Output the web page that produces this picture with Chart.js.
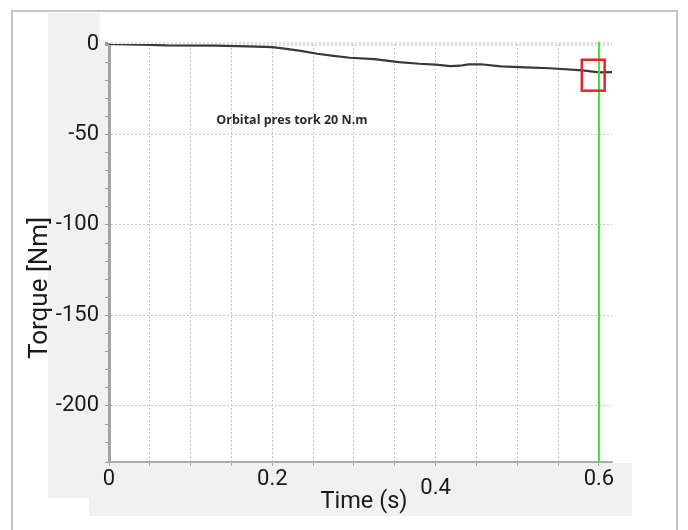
<!DOCTYPE html>
<html>
<head>
<meta charset="utf-8">
<script src="https://cdn.jsdelivr.net/npm/chart.js@4.4.1/dist/chart.umd.min.js"></script>
<style>body{margin:0;background:#fff}</style>
</head>
<body>
<canvas id="torque" width="688" height="530"></canvas>
<script>
// torque trace
const time = [0, 0.04, 0.07, 0.13, 0.17, 0.2, 0.215, 0.235, 0.255, 0.275, 0.295, 0.325, 0.355, 0.38, 0.4, 0.418, 0.43, 0.44, 0.455, 0.48, 0.51, 0.54, 0.58, 0.6, 0.616]
const torque = [0, -0.4, -0.8, -0.9, -1.3, -1.7, -2.6, -3.8, -5.4, -6.6, -7.6, -8.4, -10.0, -10.9, -11.4, -12.2, -12.0, -11.3, -11.2, -12.4, -12.9, -13.4, -14.6, -15.7, -15.5]
const xLabels = [0, 0.2, 0.4, 0.6]
const yLabels = [0, -50, -100, -150, -200]
const xRange = [0, 0.616]
const yRange = [-231, 0]

// cursor, marker box and note, in data units
const cursorTime = 0.6
const markerTime = [0.579, 0.607]
const markerTorque = [-8.7, -25.8]
const note = 'Orbital pres tork 20 N.m'
const noteAt = [0.224, -42.5]

const near = (a, b) => Math.abs(a - b) < 1e-6
const onStep = (v, s) => near(v / s, Math.round(v / s))

const extras = {
    id: 'extras',
    beforeDraw(chart) {
        const c = chart.ctx
        c.save()
        c.fillStyle = '#fff'
        c.fillRect(0, 0, chart.width, chart.height)
        c.fillStyle = '#f1f1f1'
        c.fillRect(48, 13, 52, 485)
        c.fillRect(100, 40, 9, 425)
        c.fillRect(89, 463, 543, 53)
        c.strokeStyle = '#c6c6c6'
        c.lineWidth = 2
        c.strokeRect(12, 11, 665, 540)
        c.restore()
    },
    afterDraw(chart) {
        const c = chart.ctx
        const x = chart.scales.x
        const y = chart.scales.y
        const area = chart.chartArea
        c.save()
        // green cursor
        const cx = x.getPixelForValue(cursorTime)
        c.strokeStyle = '#3ee03a'
        c.lineWidth = 2
        c.beginPath()
        c.moveTo(cx, area.top - 2)
        c.lineTo(cx, area.bottom)
        c.stroke()
        // red marker
        const x0 = x.getPixelForValue(markerTime[0])
        const x1 = x.getPixelForValue(markerTime[1])
        const y0 = y.getPixelForValue(markerTorque[0])
        const y1 = y.getPixelForValue(markerTorque[1])
        c.strokeStyle = '#e0282a'
        c.lineWidth = 2.5
        c.strokeRect(x0, y0, x1 - x0, y1 - y0)
        // note
        c.fillStyle = '#2a2a2a'
        c.font = 'bold 12.5px "Open Sans"'
        c.textAlign = 'center'
        c.textBaseline = 'middle'
        c.fillText(note, x.getPixelForValue(noteAt[0]), y.getPixelForValue(noteAt[1]))
        // axis titles
        c.fillStyle = '#1a1a1a'
        c.font = '23.5px Roboto'
        c.fillText('Time (s)', 364, 502)
        c.font = '26px Roboto'
        c.translate(40, 288)
        c.rotate(-Math.PI / 2)
        c.fillText('Torque [Nm]', 0, 0)
        c.restore()
    }
}

new Chart(document.getElementById('torque'), {
    type: 'line',
    data: {
        datasets: [{
            data: time.map((t, i) => ({x: t, y: torque[i]})),
            borderColor: '#383838',
            borderWidth: 2.2,
            pointRadius: 0,
            tension: 0
        }]
    },
    options: {
        responsive: false,
        animation: false,
        layout: {padding: {top: 44, right: 76, left: 0, bottom: 0}},
        plugins: {legend: {display: false}, tooltip: {enabled: false}},
        scales: {
            x: {
                type: 'linear',
                min: xRange[0],
                max: xRange[1],
                afterFit: s => { s.height = 68 },
                border: {color: '#ababab', width: 2, dash: [2, 2]},
                grid: {
                    color: c => c.tick && onStep(c.tick.value, 0.05) && c.tick.value > 0 ? '#c4c4c4' : 'rgba(0,0,0,0)',
                    tickColor: '#aaa',
                    tickLength: 4,
                    tickBorderDash: []
                },
                ticks: {
                    stepSize: 0.05,
                    includeBounds: false,
                    autoSkip: false,
                    maxRotation: 0,
                    padding: 0,
                    color: '#1a1a1a',
                    font: c => ({family: 'Roboto', size: 22, lineHeight: c.tick && near(c.tick.value, 0.4) ? 0.69 : 1.2}),
                    callback: v => {
                        const l = xLabels.find(l => near(l, v))
                        if (l === undefined) return ''
                        return near(l, 0.4) ? ['', String(l)] : String(l)
                    }
                }
            },
            y: {
                min: yRange[0],
                max: yRange[1],
                afterFit: s => { s.width = 109 },
                border: {color: '#a4a4a4', width: 3, dash: [2, 2]},
                grid: {
                    color: c => {
                        if (!c.tick) return 'rgba(0,0,0,0)'
                        if (c.tick.value === 0) return '#dcdcdc'
                        return yLabels.includes(c.tick.value) ? '#c8c8c8' : 'rgba(0,0,0,0)'
                    },
                    lineWidth: c => c.tick && c.tick.value === 0 ? 4 : 1,
                    tickColor: '#9a9a9a',
                    tickLength: 4,
                    tickBorderDash: []
                },
                ticks: {
                    stepSize: 10,
                    autoSkip: false,
                    padding: 6,
                    color: '#1a1a1a',
                    font: {family: 'Roboto', size: 22},
                    callback: v => yLabels.includes(v) ? String(v) : ''
                }
            }
        }
    },
    plugins: [extras]
})
</script>
</body>
</html>
